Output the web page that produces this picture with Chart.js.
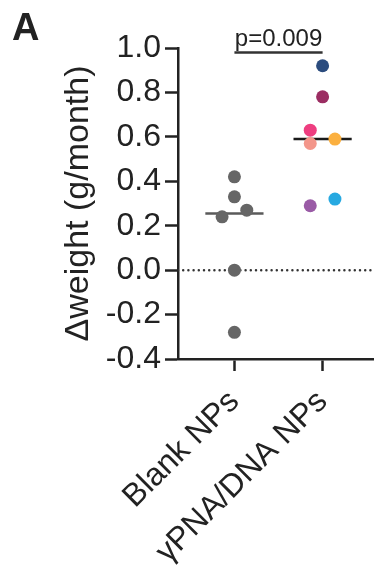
<!DOCTYPE html>
<html>
<head>
<meta charset="utf-8">
<script src="https://cdn.jsdelivr.net/npm/chart.js@4"></script>
<style>
  html, body { margin: 0; padding: 0; background: #fff; overflow: hidden; }
  #wrap { position: relative; width: 382px; height: 567px; }
</style>
</head>
<body>
<div id="wrap"><canvas id="weightChart"></canvas></div>
<script>
// Data
const categories = ['Blank NPs', 'γPNA/DNA NPs'];
const yTicks = [-0.4, -0.2, 0.0, 0.2, 0.4, 0.6, 0.8, 1.0];

const blankValues = [0.42, 0.33, 0.27, 0.24, 0.00, -0.28];
const blankJitter = [0, 0, 0.14, -0.14, 0, 0];

const pnaValues = [0.92, 0.78, 0.63, 0.57, 0.59, 0.29, 0.32];
const pnaJitter = [0, 0, -0.14, -0.14, 0.14, -0.14, 0.14];
const pnaColors = ['#2b4c7e', '#9b2d62', '#ee3e80', '#f3968a', '#fbb040', '#9a5ba6', '#27a9e1'];

const pText = 'p=0.009';
const bracketLevel = 0.98;

const FONT = "'Liberation Sans', Arial, Helvetica, sans-serif";
const INK = '#222222';

function median(arr) {
    const s = arr.slice().sort((a, b) => a - b);
    const m = Math.floor(s.length / 2);
    return s.length % 2 ? s[m] : (s[m - 1] + s[m]) / 2;
}

function toPoints(values, jitter, center) {
    return values.map((v, i) => ({ x: center + jitter[i], y: v }));
}

function medianLine(values, center) {
    const m = median(values);
    return [{ x: center - 0.33, y: m }, { x: center + 0.33, y: m }];
}

const xMin = 0.36;
const xMax = 2.6;

// p-value text + panel letter
const annotationPlugin = {
    id: 'annotations',
    afterDraw(chart) {
        const ctx = chart.ctx;
        const x = chart.scales.x;
        const y = chart.scales.y;
        ctx.save();
        ctx.fillStyle = INK;
        ctx.font = '24px ' + FONT;
        ctx.textAlign = 'center';
        ctx.textBaseline = 'alphabetic';
        ctx.fillText(pText, x.getPixelForValue(1.5), y.getPixelForValue(bracketLevel) - 6);

        ctx.font = 'bold 38px ' + FONT;
        ctx.textAlign = 'left';
        ctx.fillText('A', 12, 40);
        ctx.restore();
    }
};

const ctx = document.getElementById('weightChart');
new Chart(ctx, {
    type: 'scatter',
    data: {
        datasets: [
            {
                label: categories[0],
                data: toPoints(blankValues, blankJitter, 1),
                backgroundColor: '#666666',
                borderColor: '#666666',
                pointRadius: 6.5,
                borderWidth: 0
            },
            {
                label: categories[1],
                data: toPoints(pnaValues, pnaJitter, 2),
                backgroundColor: pnaColors,
                borderColor: pnaColors,
                pointRadius: 6.5,
                borderWidth: 0
            },
            {
                type: 'line',
                label: 'median blank',
                data: medianLine(blankValues, 1),
                borderColor: '#5a5a5a',
                borderWidth: 2.5,
                pointRadius: 0
            },
            {
                type: 'line',
                label: 'median pna',
                data: medianLine(pnaValues, 2),
                borderColor: '#1a1a1a',
                borderWidth: 2.5,
                pointRadius: 0
            },
            {
                type: 'line',
                label: 'zero',
                data: [{ x: xMin, y: 0 }, { x: xMax, y: 0 }],
                borderColor: '#333333',
                borderWidth: 2.5,
                borderDash: [0, 5.2],
                borderCapStyle: 'round',
                pointRadius: 0
            },
            {
                type: 'line',
                label: 'bracket',
                data: [{ x: 1, y: bracketLevel }, { x: 2, y: bracketLevel }],
                borderColor: '#333333',
                borderWidth: 2.5,
                pointRadius: 0,
                clip: false
            }
        ]
    },
    options: {
        responsive: true,
        maintainAspectRatio: false,
        animation: false,
        layout: { padding: { top: 48, right: 0, bottom: 0, left: 0 } },
        plugins: {
            legend: { display: false },
            tooltip: { enabled: false }
        },
        scales: {
            x: {
                type: 'linear',
                min: xMin,
                max: xMax,
                afterBuildTicks: scale => {
                    scale.ticks = categories.map((c, i) => ({ value: i + 1 }));
                },
                afterFit: scale => {
                    scale.height = 208;
                    scale.paddingRight = 0;
                },
                ticks: {
                    autoSkip: false,
                    maxRotation: 45,
                    minRotation: 45,
                    padding: 12,
                    color: INK,
                    font: { size: 32, family: FONT },
                    callback: value => categories[value - 1]
                },
                grid: {
                    drawOnChartArea: false,
                    tickLength: 12,
                    tickWidth: 2.5,
                    tickColor: INK
                },
                border: { color: INK, width: 2.5 }
            },
            y: {
                min: yTicks[0],
                max: yTicks[yTicks.length - 1],
                afterBuildTicks: scale => {
                    scale.ticks = yTicks.map(v => ({ value: v }));
                },
                afterFit: scale => {
                    scale.width = 178;
                },
                ticks: {
                    padding: 4,
                    color: INK,
                    font: { size: 32, family: FONT },
                    callback: value => value.toFixed(1)
                },
                grid: {
                    drawOnChartArea: false,
                    tickLength: 13,
                    tickWidth: 2.5,
                    tickColor: INK
                },
                border: { color: INK, width: 2.5 },
                title: {
                    display: true,
                    text: 'Δweight (g/month)',
                    color: INK,
                    font: { size: 34, family: FONT },
                    padding: { top: 58, bottom: 0 }
                }
            }
        }
    },
    plugins: [annotationPlugin]
});
</script>
</body>
</html>
